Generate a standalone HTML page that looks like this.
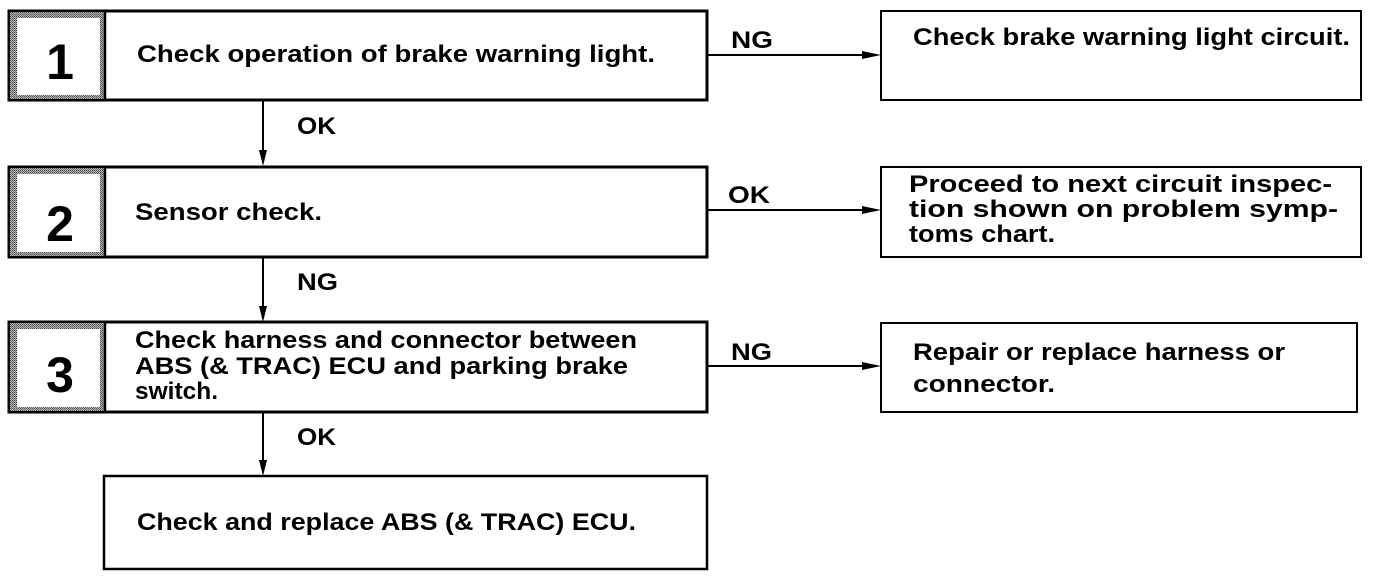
<!DOCTYPE html>
<html><head><meta charset="utf-8"><style>
html,body{margin:0;padding:0;background:#fff;}
svg{display:block;}
text{font-family:"Liberation Sans",Arial,sans-serif;font-weight:bold;fill:#000;}
</style></head><body>
<svg width="1392" height="584" viewBox="0 0 1392 584" xmlns="http://www.w3.org/2000/svg">
<defs>
<pattern id="dots" width="2" height="2" patternUnits="userSpaceOnUse">
<rect width="2" height="2" fill="#bbb"/><rect width="1" height="1" fill="#444"/><rect x="1" y="1" width="1" height="1" fill="#666"/>
</pattern>
</defs>
<g fill="none" stroke="#000" stroke-width="3">
<rect x="9" y="11" width="698" height="89"/>
<rect x="9" y="167" width="698" height="90"/>
<rect x="9" y="322" width="698" height="90"/>
<rect x="104" y="476" width="603" height="93" stroke-width="2.5"/>
<rect x="881" y="11" width="480" height="89" stroke-width="2"/>
<rect x="881" y="167" width="480" height="90" stroke-width="2"/>
<rect x="881" y="323" width="476" height="89" stroke-width="2"/>
</g>
<g>
<rect x="10" y="12" width="94" height="87" fill="url(#dots)"/><rect x="17" y="18" width="83" height="77" fill="#fff"/>
<rect x="10" y="168" width="94" height="88" fill="url(#dots)"/><rect x="17" y="174" width="83" height="78" fill="#fff"/>
<rect x="10" y="323" width="94" height="88" fill="url(#dots)"/><rect x="17" y="329" width="83" height="78" fill="#fff"/>
</g>
<g stroke="#000" stroke-width="2.5">
<line x1="105" y1="11" x2="105" y2="100"/>
<line x1="105" y1="167" x2="105" y2="257"/>
<line x1="105" y1="322" x2="105" y2="412"/>
</g>
<g stroke="#000" stroke-width="2">
<line x1="263" y1="101" x2="263" y2="160"/>
<line x1="263" y1="258" x2="263" y2="316"/>
<line x1="263" y1="413" x2="263" y2="470"/>
<line x1="708" y1="55" x2="872" y2="55"/>
<line x1="708" y1="210" x2="872" y2="210"/>
<line x1="708" y1="366" x2="872" y2="366"/>
</g>
<g fill="#000">
<polygon points="259,150 267,150 263,166"/>
<polygon points="259,306 267,306 263,322"/>
<polygon points="259,460 267,460 263,476"/>
<polygon points="862,51 862,59 881,55"/>
<polygon points="862,206 862,214 881,210"/>
<polygon points="862,362 862,370 881,366"/>
</g>
<text x="60" y="79" font-size="50" text-anchor="middle">1</text>
<text x="60" y="241" font-size="50" text-anchor="middle">2</text>
<text x="60" y="392" font-size="50" text-anchor="middle">3</text>
<g font-size="24">
<text x="137" y="62" textLength="518" lengthAdjust="spacingAndGlyphs">Check operation of brake warning light.</text>
<text x="913" y="45" textLength="437" lengthAdjust="spacingAndGlyphs">Check brake warning light circuit.</text>
<text x="135" y="220" textLength="187" lengthAdjust="spacingAndGlyphs">Sensor check.</text>
<text x="909" y="192" textLength="423" lengthAdjust="spacingAndGlyphs">Proceed to next circuit inspec-</text>
<text x="909" y="217" textLength="429" lengthAdjust="spacingAndGlyphs">tion shown on problem symp-</text>
<text x="909" y="242" textLength="146" lengthAdjust="spacingAndGlyphs">toms chart.</text>
<text x="135" y="348" textLength="502" lengthAdjust="spacingAndGlyphs">Check harness and connector between</text>
<text x="135" y="374" textLength="493" lengthAdjust="spacingAndGlyphs">ABS (&amp; TRAC) ECU and parking brake</text>
<text x="135" y="399" textLength="83" lengthAdjust="spacingAndGlyphs">switch.</text>
<text x="913" y="360" textLength="372" lengthAdjust="spacingAndGlyphs">Repair or replace harness or</text>
<text x="913" y="392" textLength="142" lengthAdjust="spacingAndGlyphs">connector.</text>
<text x="137" y="530" textLength="499" lengthAdjust="spacingAndGlyphs">Check and replace ABS (&amp; TRAC) ECU.</text>
<text x="731" y="48" textLength="42" lengthAdjust="spacingAndGlyphs">NG</text>
<text x="297" y="134" textLength="39" lengthAdjust="spacingAndGlyphs">OK</text>
<text x="728" y="203" textLength="42" lengthAdjust="spacingAndGlyphs">OK</text>
<text x="297" y="290" textLength="41" lengthAdjust="spacingAndGlyphs">NG</text>
<text x="731" y="360" textLength="41" lengthAdjust="spacingAndGlyphs">NG</text>
<text x="297" y="445" textLength="39" lengthAdjust="spacingAndGlyphs">OK</text>
</g>
</svg>
</body></html>
